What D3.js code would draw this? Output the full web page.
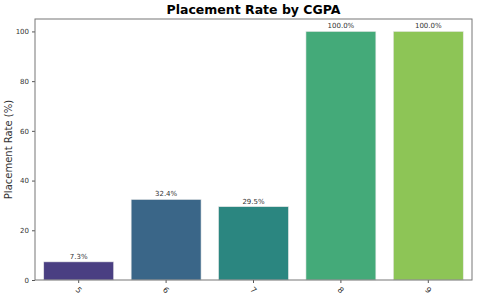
<!DOCTYPE html>
<html>
<head>
<meta charset="utf-8">
<script src="https://cdn.jsdelivr.net/npm/d3@7"></script>
<style>
  body { margin: 0; background: #fff; }
  svg { font-family: "DejaVu Sans", sans-serif; }
</style>
</head>
<body>
<div id="chart"></div>
<script>
const cgpa = ["5", "6", "7", "8", "9"];
const rates = [7.3, 32.4, 29.5, 100.0, 100.0];
const colors = ["#4a3f82", "#3a6688", "#2b8680", "#44aa79", "#8dc556"];
const yTicks = [0, 20, 40, 60, 80, 100];

const width = 480, height = 300;
const margin = { top: 19, right: 8, bottom: 20, left: 35 };

const svg = d3.select("#chart")
  .append("svg")
  .attr("width", width)
  .attr("height", height);

// Echelles
const x = d3.scaleBand()
  .domain(cgpa)
  .range([margin.left, width - margin.right])
  .paddingInner(0.2)
  .paddingOuter(0.1);

const y = d3.scaleLinear()
  .domain([0, 105])
  .range([height - margin.bottom, margin.top]);

// Barres
svg.selectAll("rect.bar")
  .data(rates)
  .join("rect")
  .attr("class", "bar")
  .attr("x", (d, i) => x(cgpa[i]))
  .attr("y", d => y(d))
  .attr("width", x.bandwidth())
  .attr("height", d => y(0) - y(d))
  .attr("fill", (d, i) => colors[i])
  .attr("stroke", "#e8e8e8")
  .attr("stroke-width", 0.6);

// Etiquettes de valeur
svg.selectAll("text.val")
  .data(rates)
  .join("text")
  .attr("class", "val")
  .attr("x", (d, i) => x(cgpa[i]) + x.bandwidth() / 2)
  .attr("y", d => y(d) - 3)
  .attr("text-anchor", "middle")
  .style("font-size", "7px")
  .attr("fill", "#333")
  .text(d => d.toFixed(1) + "%");

// Axes
const yAxis = svg.append("g")
  .attr("transform", `translate(${margin.left},0)`)
  .call(d3.axisLeft(y).tickValues(yTicks).tickSize(3).tickPadding(3));

const xAxis = svg.append("g")
  .attr("transform", `translate(0,${height - margin.bottom})`)
  .call(d3.axisBottom(x).tickSize(3).tickPadding(5));

xAxis.selectAll("text")
  .attr("y", 0)
  .attr("dy", "0.35em")
  .attr("text-anchor", "middle")
  .attr("transform", "translate(0,10) rotate(45)");

[xAxis, yAxis].forEach(g => {
  g.select(".domain").remove();
  g.selectAll("line").attr("stroke", "#555");
  g.selectAll("text").attr("fill", "#333").style("font-size", "7px").style("font-family", "DejaVu Sans");
});
xAxis.selectAll("text").style("font-size", "8px");

// Cadre
svg.append("rect")
  .attr("x", margin.left)
  .attr("y", margin.top)
  .attr("width", width - margin.left - margin.right)
  .attr("height", height - margin.top - margin.bottom)
  .attr("fill", "none")
  .attr("stroke", "#777")
  .attr("stroke-width", 1);

// Titre
svg.append("text")
  .attr("x", (margin.left + width - margin.right) / 2)
  .attr("y", 14)
  .attr("text-anchor", "middle")
  .style("font-size", "12.5px")
  .style("font-weight", "bold")
  .text("Placement Rate by CGPA");

// Legende axe y
svg.append("text")
  .attr("transform", "rotate(-90)")
  .attr("x", -(margin.top + height - margin.bottom) / 2)
  .attr("y", 12)
  .attr("text-anchor", "middle")
  .style("font-size", "10px")
  .attr("fill", "#333")
  .text("Placement Rate (%)");
</script>
</body>
</html>
